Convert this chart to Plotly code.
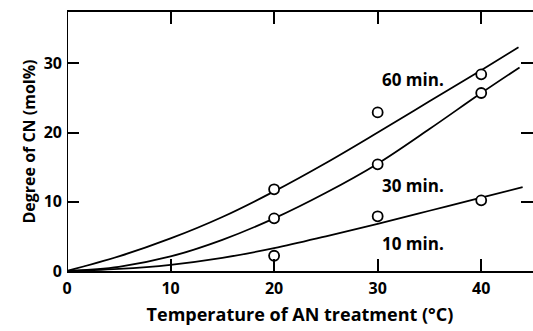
import plotly.graph_objects as go

# Measured points (Temperature °C, Degree of CN mol%)
temps = [20, 30, 40]
pts_60 = [11.8, 22.9, 28.4]
pts_30 = [7.6, 15.4, 25.7]
pts_10 = [2.2, 7.9, 10.2]

# Fitted curves
curve_x_60 = [0, 5, 10, 15, 20, 25, 30, 35, 40, 43.6]
curve_y_60 = [0, 2.1, 4.7, 7.8, 11.5, 15.6, 20.0, 24.5, 29.0, 32.3]
curve_x_30 = [0, 5, 10, 15, 20, 25, 30, 35, 40, 43.7]
curve_y_30 = [0, 0.6, 2.1, 4.5, 7.6, 11.3, 15.5, 20.5, 25.7, 29.4]
curve_x_10 = [0, 5, 10, 15, 20, 25, 30, 35, 40, 44]
curve_y_10 = [0, 0.3, 0.9, 1.9, 3.3, 5.0, 6.8, 8.7, 10.6, 12.1]

labels = ["60 min.", "30 min.", "10 min."]
label_x = [33.4, 33.4, 33.4]
label_y = [27.6, 12.4, 4.0]

xticks = [0, 10, 20, 30, 40]
yticks = [0, 10, 20, 30]

FONT = "Open Sans"

fig = go.Figure()
for cx, cy in [(curve_x_60, curve_y_60), (curve_x_30, curve_y_30), (curve_x_10, curve_y_10)]:
    fig.add_trace(go.Scatter(x=cx, y=cy, mode="lines", line=dict(color="black", width=1.8, shape="spline"),
                             hoverinfo="skip", showlegend=False))
for py in [pts_60, pts_30, pts_10]:
    fig.add_trace(go.Scatter(x=temps, y=py, mode="markers",
                             marker=dict(symbol="circle", size=10, color="white",
                                         line=dict(color="black", width=1.8)),
                             showlegend=False))

for t, lx, ly in zip(labels, label_x, label_y):
    fig.add_annotation(x=lx, y=ly, text=t, showarrow=False,
                       font=dict(family=FONT, size=17, color="black", weight="bold"))

# left axis line
fig.add_shape(type="line", xref="x", yref="paper", x0=0, x1=0, y0=0, y1=1,
              line=dict(color="black", width=2))

fig.update_xaxes(range=[0, 45], tickvals=xticks, ticktext=[str(v) for v in xticks],
                 ticks="inside", ticklen=12, tickwidth=1.5, tickcolor="black",
                 showline=True, linecolor="black", linewidth=2, mirror="ticks",
                 showgrid=False, zeroline=False, ticklabelstandoff=2,
                 tickfont=dict(family=FONT, size=16, color="black", weight="bold"),
                 title=dict(text="Temperature of AN treatment (°C)", standoff=10,
                            font=dict(family=FONT, size=18, color="black", weight="bold")))
fig.update_yaxes(range=[0, 37.4], tickvals=yticks, ticktext=[str(v) for v in yticks],
                 ticks="inside", ticklen=12, tickwidth=1.5, tickcolor="black",
                 showline=False, mirror="ticks",
                 showgrid=False, zeroline=False, ticklabelstandoff=4,
                 tickfont=dict(family=FONT, size=16, color="black", weight="bold"),
                 title=dict(text="Degree of CN (mol%)", standoff=4,
                            font=dict(family=FONT, size=16, color="black", weight="bold")))

fig.update_layout(width=533, height=331, margin=dict(l=67, r=0, t=12, b=60),
                  plot_bgcolor="white", paper_bgcolor="white")

fig.write_html("out.html")
